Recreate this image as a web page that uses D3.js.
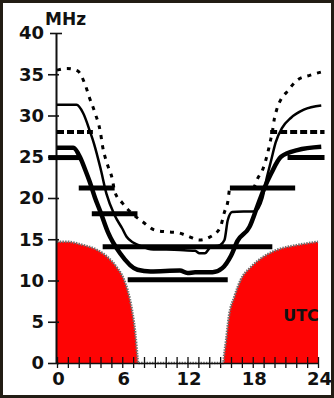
<!DOCTYPE html>
<html><head><meta charset="utf-8">
<script src="https://cdn.jsdelivr.net/npm/d3@7/dist/d3.min.js"></script>
<style>body{margin:0;background:#fff}svg{display:block}</style>
</head><body>
<svg id="c" width="334" height="398"></svg>
<script>
// ---- data ----
const yTickValues = [0, 5, 10, 15, 20, 25, 30, 35, 40];
const xTickHours = d3.range(0, 25);
const xLabelHours = [0, 6, 12, 18, 24];
const yUnit = "MHz";
const xUnit = "UTC";

// upper (dotted) curve [hour UTC, MHz]
const dottedCurve = [[0,35.5],[0.9,35.7],[1.9,35.4],[2.6,33.7],[3.0,32.1],[3.5,30.3],[4.0,27.9],[4.2,26.2],[4.6,24.2],[5.1,22.2],[5.3,20.8],[6.0,19.4],[7.0,18.0],[7.9,17.1],[9.0,16.1],[10.1,15.9],[11.1,15.8],[12.0,15.4],[13.1,14.9],[14.1,15.3],[15.0,16.4],[15.4,18.3],[15.7,19.5],[15.9,21.2],[18.0,21.2],[18.5,22.5],[18.9,23.4],[19.2,24.6],[19.4,25.6],[19.6,26.8],[19.8,28.0],[20.0,29.7],[20.2,30.7],[20.7,32.2],[21.1,32.8],[22.1,34.3],[23.3,34.9],[24.4,35.3]];
// middle (thin solid) curve
const thinCurve = [[0,31.3],[1.8,31.3],[2.4,30.3],[3.0,28.2],[3.4,26.6],[4.0,23.6],[4.55,20.5],[5.3,17.9],[6.0,16.3],[6.4,15.3],[7.0,14.6],[7.9,14.1],[8.6,13.8],[11.3,13.7],[12.7,13.6],[13.1,13.3],[13.6,13.3],[14.1,14.0],[15.0,14.3],[15.4,14.9],[15.7,17.3],[16.1,18.3],[18.2,18.4],[18.9,20.0],[19.3,22.5],[19.7,24.6],[20.1,26.7],[20.7,28.5],[21.5,29.7],[22.7,30.7],[24.3,31.2]];
// lower (thick solid) curve
const thickCurve = [[0,26.1],[1.5,26.1],[2.1,25.0],[2.6,23.4],[3.0,22.0],[3.5,20.0],[4.0,18.3],[4.7,15.8],[5.8,13.3],[7.4,11.3],[8.6,11.1],[11.3,11.2],[12.0,10.9],[12.7,11.0],[14.3,11.0],[15.2,11.5],[16.0,13.0],[16.6,14.8],[17.7,16.5],[18.4,18.9],[19.0,21.0],[19.7,23.0],[20.6,25.0],[22.1,25.8],[24.3,26.2]];
// band openings [MHz, from hour, to hour]
const solidBands = [[24.9,-0.8,2.1],[24.9,21.2,24.6],[21.2,2.0,5.3],[21.2,15.9,21.9],[18.1,3.2,7.4],[14.1,4.2,19.8],[10.1,6.5,15.7]];
const dashedBands = [[28.0,0,3.3],[28.0,19.6,24.6]];
// red regions [hour, MHz]
const redLeft = [[0,14.7],[0.9,14.7],[2.4,14.3],[3.7,13.7],[4.6,12.9],[5.5,11.6],[6.1,10.3],[6.5,8.8],[6.9,6.4],[7.2,3.6],[7.4,0.7],[7.45,0]];
const redRight = [[15.3,0],[15.35,0.7],[15.55,2.8],[15.8,5.6],[16.3,8.0],[16.9,10.1],[17.8,11.6],[19.0,12.9],[20.2,13.7],[22.1,14.3],[24,14.7]];

// ---- drawing ----
const svg = d3.select("#c");
const x = d3.scaleLinear().domain([0, 24]).range([57, 318]);
const y = d3.scaleLinear().domain([0, 40]).range([363, 33]);
const FONT = "'DejaVu Sans', sans-serif";

svg.append("rect").attr("width", 334).attr("height", 398).attr("fill", "#fff");

// red regions
const area = d3.area().x(d => x(d[0])).y0(y(0)).y1(d => y(d[1])).curve(d3.curveMonotoneX);
svg.append("path").datum(redLeft).attr("d", area).attr("fill", "#fe0404");
svg.append("path").datum(redRight).attr("d", area).attr("fill", "#fe0404");
const line = d3.line().x(d => x(d[0])).y(d => y(d[1])).curve(d3.curveMonotoneX);
svg.append("path").datum(redLeft.concat(redRight)).attr("d", line)
  .attr("fill", "none").attr("stroke", "#6f6f6f").attr("stroke-width", 2.5)
  .attr("stroke-dasharray", "1.5,1.2");

// x axis
const xAxis = svg.append("g").attr("transform", `translate(0,${y(0)})`)
  .call(d3.axisBottom(x).tickValues(xTickHours).tickSize(5).tickSizeOuter(0)
    .tickFormat(d => xLabelHours.includes(d) ? d : ""));
xAxis.select(".domain").attr("stroke", "#111").attr("stroke-width", 1.6);
xAxis.selectAll(".tick line").attr("y1", -6).attr("y2", 5).attr("stroke", "#111").attr("stroke-width", 1.3);
xAxis.selectAll(".tick text").attr("y", 22).attr("dy", 0).attr("dx", 1)
  .attr("font-family", FONT).attr("font-weight", "bold").attr("font-size", 18).attr("fill", "#111");

// y axis
const yAxis = svg.append("g").attr("transform", `translate(${x(0) - 1},0)`)
  .call(d3.axisLeft(y).tickValues(yTickValues).tickSize(8).tickSizeOuter(0));
yAxis.select(".domain").attr("stroke", "#111").attr("stroke-width", 2);
yAxis.selectAll(".tick line").attr("x1", d => d === 40 ? 6 : 3).attr("x2", d => d === 40 ? -6 : -8)
  .attr("stroke", "#111").attr("stroke-width", 1.6);
yAxis.selectAll(".tick text").attr("x", -12)
  .attr("font-family", FONT).attr("font-weight", "bold").attr("font-size", 18).attr("fill", "#111");

// band bars
svg.append("g").selectAll("line").data(solidBands).join("line")
  .attr("x1", d => x(d[1])).attr("x2", d => x(d[2]))
  .attr("y1", d => y(d[0])).attr("y2", d => y(d[0]))
  .attr("stroke", "#000").attr("stroke-width", 5);
svg.append("g").selectAll("line").data(dashedBands).join("line")
  .attr("x1", d => x(d[1])).attr("x2", d => x(d[2]))
  .attr("y1", d => y(d[0])).attr("y2", d => y(d[0]))
  .attr("stroke", "#000").attr("stroke-width", 4).attr("stroke-dasharray", "7,3");

// curves
svg.append("path").datum(thickCurve).attr("d", line).attr("fill", "none")
  .attr("stroke", "#000").attr("stroke-width", 4.5).attr("stroke-linejoin", "round");
svg.append("path").datum(thinCurve).attr("d", line).attr("fill", "none")
  .attr("stroke", "#000").attr("stroke-width", 2.5).attr("stroke-linejoin", "round");
svg.append("path").datum(dottedCurve).attr("d", line).attr("fill", "none")
  .attr("stroke", "#000").attr("stroke-width", 3).attr("stroke-dasharray", "4,6");

// labels
svg.append("text").attr("x", 45).attr("y", 25).text(yUnit)
  .attr("font-family", FONT).attr("font-weight", "bold").attr("font-size", 17).attr("fill", "#111");
svg.append("text").attr("x", 301).attr("y", 321).attr("text-anchor", "middle").text(xUnit)
  .attr("font-family", FONT).attr("font-weight", "bold").attr("font-size", 16).attr("fill", "#111");

// frame
svg.append("rect").attr("x", 1.5).attr("y", 1.5).attr("width", 331).attr("height", 395)
  .attr("fill", "none").attr("stroke", "#221d14").attr("stroke-width", 3);
</script>
</body></html>
